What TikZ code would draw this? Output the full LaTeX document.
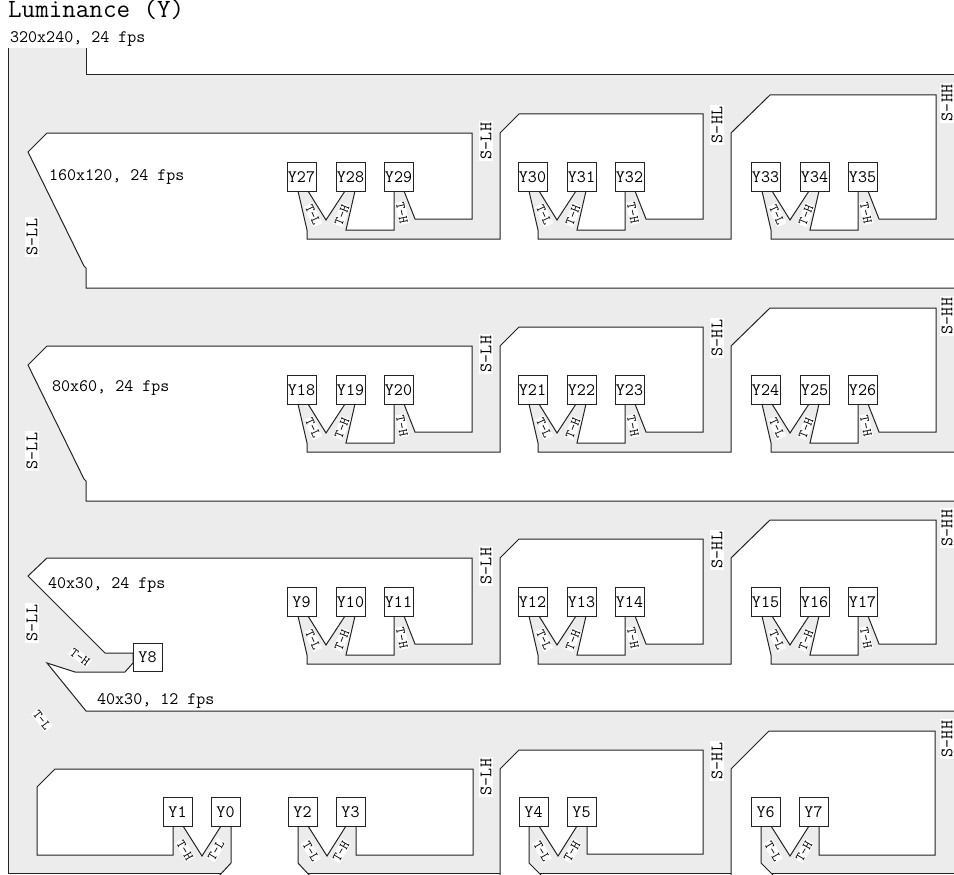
\documentclass[tikz,border=0pt]{standalone}
\usepackage{fontspec}
\usepackage{tikz}
\usetikzlibrary{calc}
\definecolor{bandgray}{RGB}{236,236,236}
\definecolor{edgeblack}{RGB}{35,35,35}
\tikzset{
    % grey signal area and white holes
    band/.style={fill=bandgray},
    edge/.style={draw=edgeblack, line width=1pt},
    hole/.style={fill=white, draw=edgeblack, line width=1pt},
    % coefficient boxes
    ybox/.style={rectangle, draw=edgeblack, fill=white, line width=1pt,
                 minimum width=29pt, minimum height=28.5pt, inner sep=0pt,
                 font=\ttfamily\fontsize{17.5}{18}\selectfont},
    % labels
    slbl/.style={fill=white, inner sep=1.5pt, rotate=90,
                 font=\ttfamily\fontsize{17.5}{18}\selectfont},
    tlbl/.style={fill=white, inner sep=0.8pt,
                 font=\ttfamily\fontsize{13.5}{14}\selectfont},
    reslbl/.style={anchor=base west, inner sep=0pt,
                 font=\ttfamily\fontsize{17.5}{18}\selectfont},
}
% one group of three boxes: #1 left of first box, #2 top edge, #3 row shift
\newcommand\stemgroup[3]{%
  -- ({#1+185},{#2}) -- ({#1+185},{#3+219}) -- ({#1+128},{#3+219})
  -- ({#1+117},{#3+191}) -- ({#1+107},{#3+191}) -- ({#1+107},{#3+230})
  -- ({#1+59},{#3+230}) -- ({#1+68},{#3+191}) -- ({#1+58},{#3+191})
  -- ({#1+39},{#3+220}) -- ({#1+21},{#3+191}) -- ({#1+11},{#3+191})
  -- ({#1+20},{#3+230}) -- ({#1+20},{#3+239})}

\begin{document}
\begin{tikzpicture}[x=1pt, y=-1pt]
\useasboundingbox (0,0) rectangle (954,875);
\clip (0,0) rectangle (954,875);

% grey area
\fill[band] (8,48) -- (86,48) -- (86,75) -- (962,75) -- (962,873) -- (8,873) -- cycle;
\draw[edge] (86,48) -- (86,75) -- (962,75);
\draw[edge] (8,48) -- (8,873) -- (962,873);

% 160x120 and 80x60
\foreach \o in {0,213}{
  \path[hole] (28,{\o+152}) -- (47,{\o+133}) \stemgroup{287}{\o+133}{\o}
    -- (500,{\o+239}) -- (500,{\o+133}) -- (519,{\o+114}) \stemgroup{518}{\o+114}{\o}
    -- (731,{\o+239}) -- (731,{\o+133}) -- (770,{\o+95}) \stemgroup{751}{\o+95}{\o}
    -- (962,{\o+239}) -- (962,{\o+288}) -- (86,{\o+288}) -- (86,{\o+268})
    -- (84,{\o+266}) -- cycle;
}

% 40x30
\path[hole] (28,576) -- (47,558) \stemgroup{287}{558}{425}
  -- (500,664) -- (500,558) -- (519,539) \stemgroup{518}{539}{425}
  -- (731,664) -- (731,558) -- (770,520) \stemgroup{751}{520}{425}
  -- (962,664) -- (962,711) -- (86,711) -- (47,663) -- (75,672) -- (125,672)
  -- (133,663) -- (133,653) -- (105,653) -- cycle;

% 40x30, 12 fps
\path[hole] (37,787) -- (55,769) -- (473,769) -- (473,855) -- (356,855)
  -- (356,826) -- (346,826) -- (327,856) -- (308,826) -- (298,826) -- (298,863)
  -- (311,877) -- (311,890) -- (218,890) -- (218,877) -- (231,863) -- (231,826)
  -- (221,826) -- (202,856) -- (183,826) -- (173,826) -- (173,855) -- (37,855) -- cycle;
\path[hole] (500,890) -- (500,769) -- (519,750) -- (703,750) -- (703,854)
  -- (587,854) -- (587,826) -- (577,826) -- (558,856) -- (539,826) -- (529,826)
  -- (529,863) -- (543,877) -- (543,890) -- cycle;
\path[hole] (731,890) -- (731,769) -- (769,731) -- (935,731) -- (935,855)
  -- (819,855) -- (819,826) -- (809,826) -- (790,856) -- (771,826) -- (761,826)
  -- (761,863) -- (775,877) -- (775,890) -- cycle;

% coefficient boxes
\foreach \o/\n in {0/27, 213/18, 425/9}{
  \foreach \b [count=\g from 0] in {287,518,751}{
    \pgfmathtruncatemacro\ka{\n+3*\g}
    \pgfmathtruncatemacro\kb{\n+3*\g+1}
    \pgfmathtruncatemacro\kc{\n+3*\g+2}
    \node[ybox] (y\ka) at ({\b+14.5},{\o+177}) {Y\ka};
    \node[ybox] (y\kb) at ({\b+63.5},{\o+177}) {Y\kb};
    \node[ybox] (y\kc) at ({\b+111.5},{\o+177}) {Y\kc};
    \node[tlbl, rotate=-65] (tl\ka) at ({\b+26},{\o+215}) {T-L};
    \node[tlbl, rotate=68] (th\kb) at ({\b+55},{\o+215}) {T-H};
    \node[tlbl, rotate=-78] (th\kc) at ({\b+115},{\o+213}) {T-H};
  }
}
\node[ybox] (y8) at (147.5,657.5) {Y8};
\foreach \x/\n in {177.5/1, 225.5/0, 302.5/2, 350.5/3, 533.5/4, 581.5/5, 765.5/6, 813.5/7}
  \node[ybox] (y\n) at (\x,812) {Y\n};

% stem labels
\node[tlbl, rotate=-36] (th8) at (80,657) {T-H};
\node[tlbl, rotate=-52] (tlrow) at (42,720) {T-L};
\node[tlbl, rotate=-60] (th1) at (185,850) {T-H};
\node[tlbl, rotate=60] (tl0) at (216,850) {T-L};
\node[tlbl, rotate=-60] (tl2) at (311,851) {T-L};
\node[tlbl, rotate=60] (th3) at (341,851) {T-H};
\node[tlbl, rotate=-60] (tl4) at (542,851) {T-L};
\node[tlbl, rotate=60] (th5) at (572,851) {T-H};
\node[tlbl, rotate=-60] (tl6) at (773,851) {T-L};
\node[tlbl, rotate=60] (th7) at (804,851) {T-H};

% subband labels
\foreach \y in {237,451,623}
  \node[slbl] (sll\y) at (32,\y) {S-LL};
\foreach \o in {0,213,425,636}{
  \node[slbl] (slh\o) at (486,{\o+141}) {S-LH};
  \node[slbl] (shl\o) at (717,{\o+125}) {S-HL};
  \node[slbl] (shh\o) at (947,{\o+103}) {S-HH};
}

% resolutions
\node[reslbl, font=\ttfamily\fontsize{26.3}{27}\selectfont] (title) at (8,18) {Luminance (Y)};
\node[reslbl] (res0) at (10,43) {320x240, 24 fps};
\node[reslbl] (res1) at (49,180) {160x120, 24 fps};
\node[reslbl] (res2) at (52,391) {80x60, 24 fps};
\node[reslbl] (res3) at (48,588) {40x30, 24 fps};
\node[reslbl] (res4) at (97,704) {40x30, 12 fps};
\end{tikzpicture}
\end{document}
